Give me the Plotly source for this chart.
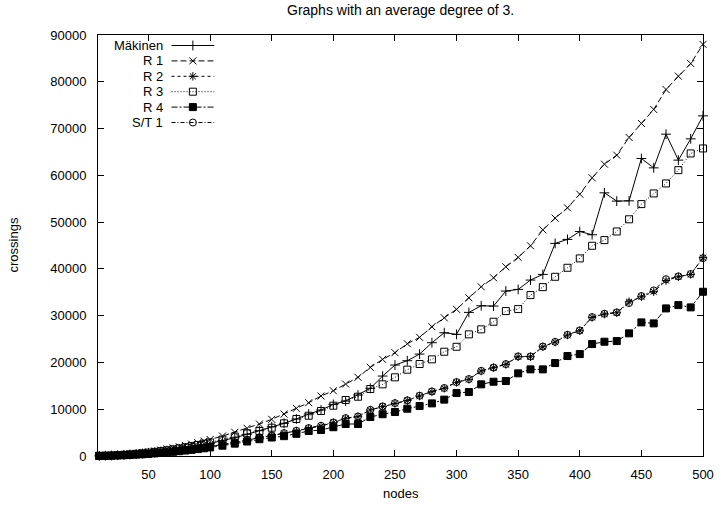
import plotly.graph_objects as go

# Graph sizes (number of nodes) for every measured run
nodes = [10, 15, 20, 25, 30, 35, 40, 45, 50, 55, 60, 65, 70, 75, 80, 85, 90, 95, 100,
         110, 120, 130, 140, 150, 160, 170, 180, 190, 200, 210, 220, 230, 240, 250,
         260, 270, 280, 290, 300, 310, 320, 330, 340, 350, 360, 370, 380, 390, 400,
         410, 420, 430, 440, 450, 460, 470, 480, 490, 500]

# Number of edge crossings produced by each heuristic
makinen = [27, 62, 110, 170, 245, 330, 435, 550, 680, 820, 975, 1140, 1320, 1520, 1730, 1950, 2190, 2440, 2700,
           3270, 3900, 4640, 5410, 6260, 6990, 7910, 8970, 9830, 11040, 11750, 13030, 14470, 17090, 19440,
           20370, 21790, 24220, 26350, 26000, 30700, 32120, 32050, 35260, 35610, 37610, 38820, 45450, 46300, 48000,
           47300, 56260, 54490, 54550, 63600, 61600, 68800, 63250, 67800, 72720]

r1 = [35, 80, 140, 220, 320, 430, 560, 710, 880, 1060, 1270, 1490, 1720, 1980, 2250, 2540, 2850, 3180, 3520,
      4260, 5070, 5920, 6840, 7840, 8970, 10190, 11390, 12820, 13950, 15380, 16820, 18950, 20660, 22080,
      24000, 25360, 27630, 29550, 31350, 33820, 36170, 38100, 40450, 42460, 44940, 48350, 50850, 53050, 55980,
      59470, 62390, 64320, 68100, 71090, 74080, 78350, 81200, 83900, 88000]

r2 = [20, 45, 80, 125, 180, 245, 320, 405, 500, 605, 720, 845, 980, 1125, 1280, 1445, 1620, 1805, 2000,
      2420, 2880, 3400, 3990, 4340, 4850, 5340, 5920, 6410, 7120, 8050, 8400, 9830, 10540, 11250,
      11850, 12820, 13740, 14470, 15750, 16390, 18160, 18870, 19590, 21220, 21220, 23350, 24350, 25850, 26770,
      29640, 30340, 30620, 32970, 34040, 35110, 37500, 38310, 38820, 42400]

r3 = [29, 65, 116, 180, 260, 355, 465, 590, 725, 880, 1045, 1225, 1420, 1630, 1855, 2095, 2350, 2615, 2900,
      3500, 4170, 4850, 5340, 6050, 6990, 7910, 8610, 9620, 10750, 11970, 12670, 14320, 15320, 16820,
      18450, 19660, 20660, 22290, 23350, 26000, 27070, 28700, 30980, 31410, 34400, 36100, 38310, 40240, 42240,
      44940, 46150, 48000, 50600, 53850, 56130, 58270, 61110, 64680, 65750]

r4 = [18, 41, 73, 115, 165, 225, 295, 370, 460, 555, 660, 775, 900, 1030, 1170, 1320, 1480, 1650, 1830,
      2200, 2640, 3100, 3590, 3950, 4240, 4740, 5340, 5560, 6150, 6840, 6840, 8330, 8930, 9400,
      10110, 10680, 11250, 12050, 13460, 13670, 15320, 15880, 16030, 17670, 18520, 18520, 19870, 21370, 21790,
      23930, 24430, 24570, 26220, 28560, 28350, 31550, 32260, 31770, 35110]

st1 = [21, 46, 82, 127, 183, 248, 324, 410, 505, 610, 725, 850, 990, 1135, 1290, 1455, 1630, 1815, 2010,
       2440, 2900, 3420, 4010, 4380, 4890, 5380, 5960, 6460, 7160, 8100, 8450, 9870, 10600, 11300,
       11900, 12880, 13800, 14530, 15800, 16450, 18200, 18920, 19650, 21300, 21280, 23400, 24400, 25900, 26850,
       29700, 30400, 30700, 32700, 34200, 35400, 37800, 38400, 38900, 42300]

series_names = ["Mäkinen", "R 1", "R 2", "R 3", "R 4", "S/T 1"]
series_values = [makinen, r1, r2, r3, r4, st1]

# gnuplot-like point types and dash patterns
styles = [
    dict(symbol="cross-thin", size=7, dash="solid"),
    dict(symbol="x-thin", size=7, dash="6px,3px"),
    dict(symbol="asterisk", size=7, dash="3px,3px"),
    dict(symbol="square-open", size=7, dash="1px,2px"),
    dict(symbol="square", size=7, dash="6px,2px,2px,2px"),
    dict(symbol="circle-open", size=7, dash="4px,2px,1px,2px"),
]

FONT = "Liberation Sans, Arial, Helvetica, sans-serif"
x_ticks = list(range(50, 501, 50))
y_ticks = list(range(0, 90001, 10000))

W, H = 726, 505
L, R, T, B = 98, 19, 35, 49
PW, PH = W - L - R, H - T - B


def marker_for(st):
    return dict(symbol=st["symbol"], size=st["size"], color="black",
                line=dict(color="black", width=1))


fig = go.Figure()
for name, vals, st in zip(series_names, series_values, styles):
    fig.add_trace(go.Scatter(
        x=nodes, y=vals, mode="lines+markers", name=name,
        line=dict(color="black", width=1, dash=st["dash"]),
        marker=marker_for(st), showlegend=False, cliponaxis=False,
        xaxis="x", yaxis="y",
    ))

# Key in the top-left corner: right-aligned label, then a line sample with its point
key_text_x = 67
key_line = (74, 117)
key_top, key_step = 10.5, 15.4
for i, (name, st) in enumerate(zip(series_names, styles)):
    ky = key_top + i * key_step
    fig.add_trace(go.Scatter(
        x=[key_line[0], key_line[1]], y=[ky, ky], mode="lines",
        line=dict(color="black", width=1, dash=st["dash"]),
        showlegend=False, hoverinfo="skip", xaxis="x2", yaxis="y2",
    ))
    fig.add_trace(go.Scatter(
        x=[(key_line[0] + key_line[1]) / 2], y=[ky], mode="markers",
        marker=marker_for(st), showlegend=False, hoverinfo="skip",
        xaxis="x2", yaxis="y2",
    ))
    fig.add_annotation(
        x=key_text_x, y=ky, xref="x2", yref="y2", text=name, showarrow=False,
        xanchor="right", yanchor="middle", font=dict(family=FONT, size=13, color="black"),
    )

axis_common = dict(
    showline=True, linecolor="black", linewidth=1, mirror="ticks",
    ticks="inside", ticklen=6, tickwidth=1, tickcolor="black",
    showgrid=False, zeroline=False,
    tickfont=dict(family=FONT, size=13, color="black"),
)

fig.update_layout(
    width=W, height=H,
    margin=dict(l=L, r=R, t=T, b=B, pad=0),
    paper_bgcolor="white", plot_bgcolor="white",
    xaxis=dict(range=[9, 500], tickmode="array", tickvals=x_ticks,
               ticktext=[str(v) for v in x_ticks],
               ticklabelstandoff=6, **axis_common),
    yaxis=dict(range=[0, 90000], tickmode="array", tickvals=y_ticks,
               ticktext=[str(v) for v in y_ticks],
               ticklabelstandoff=8, **axis_common),
    xaxis2=dict(range=[0, PW], overlaying="x", visible=False, fixedrange=True),
    yaxis2=dict(range=[PH, 0], overlaying="y", visible=False, fixedrange=True),
    showlegend=False,
)

fig.add_annotation(
    text="Graphs with an average degree of 3.", xref="paper", yref="paper",
    x=0.5, y=1, yshift=25, xanchor="center", yanchor="middle", showarrow=False,
    font=dict(family=FONT, size=14, color="black"),
)
fig.add_annotation(
    text="nodes", xref="paper", yref="paper", x=0.5, y=0, yshift=-37,
    xanchor="center", yanchor="middle", showarrow=False,
    font=dict(family=FONT, size=13, color="black"),
)
fig.add_annotation(
    text="crossings", xref="paper", yref="paper", x=0, y=0.5, xshift=-85,
    xanchor="center", yanchor="middle", textangle=-90, showarrow=False,
    font=dict(family=FONT, size=13, color="black"),
)

fig.write_html("out.html")
